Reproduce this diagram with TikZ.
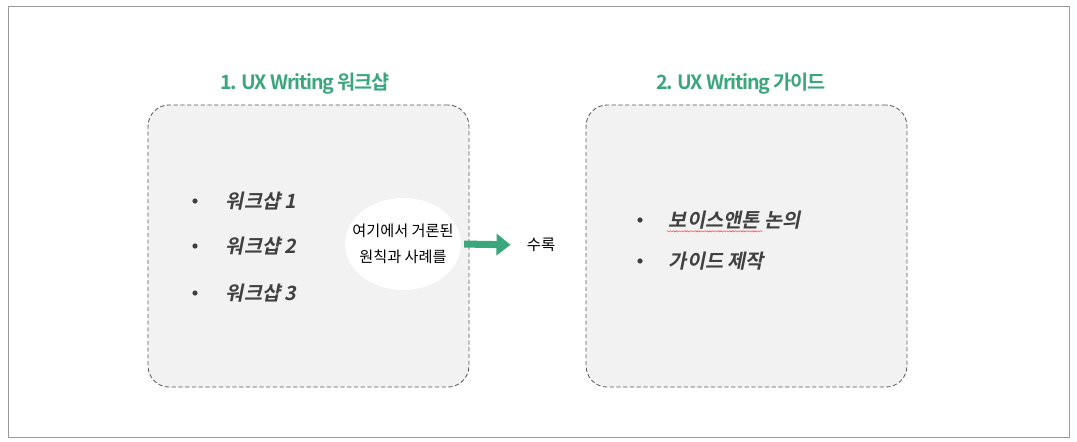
\documentclass[tikz,border=0pt]{standalone}
\usepackage{fontspec}
\setmainfont{Noto Sans CJK KR}
\newfontfamily\kr{Noto Sans CJK KR}
\newfontfamily\krtitle[LetterSpace=-6]{Noto Sans CJK KR Bold}
\newfontfamily\krit[FakeSlant=0.2]{Noto Sans CJK KR Bold}
\usetikzlibrary{positioning, arrows.meta, shapes.geometric, decorations.pathmorphing}
\definecolor{uxgreen}{HTML}{3AA67C}
\definecolor{itemgray}{HTML}{404040}
\definecolor{panelfill}{HTML}{F2F2F2}
\definecolor{panelline}{HTML}{5A5A5A}
\tikzset{
  x=0.025cm, y=-0.025cm,
  title/.style={
      font=\krtitle\fontsize{14}{17}\selectfont,
      text=uxgreen
    },
  panel/.style={
      rectangle,
      draw=panelline,
      line width=0.6pt,
      dash pattern=on 3pt off 1.8pt,
      fill=panelfill,
      rounded corners=15pt,
      minimum width=8.02cm,
      minimum height=7.05cm
    },
  dot/.style={
      circle,
      fill=itemgray,
      inner sep=0pt,
      minimum size=0.13cm
    },
  item/.style={
      anchor=west,
      font=\krit\fontsize{14}{17}\selectfont,
      text=itemgray
    },
  bubble/.style={
      ellipse,
      fill=white,
      inner xsep=-7.5pt,
      inner ysep=0pt,
      minimum width=2.9cm,
      minimum height=2.3cm,
      align=center,
      font=\kr\fontsize{10.8}{18.5}\selectfont
    },
  arr/.style={
      -{Triangle[length=10pt, width=15pt]},
      line width=5pt,
      draw=uxgreen
    }
}

\begin{document}
\begin{tikzpicture}
  \useasboundingbox (0,0) rectangle (1077,441);
  \draw[color=gray!80] (8,6) rectangle (1069,437);
  % left panel
  \node[panel] (work) at (308.5,246) {};
  \node[title] (worktitle) at (305,84) {1. UX Writing 워크샵};
  \node[dot] (d1) at (195,201) {}; \node[item] (w1) at (221,201) {워크샵 1};
  \node[dot] (d2) at (195,246) {}; \node[item] (w2) at (221,246) {워크샵 2};
  \node[dot] (d3) at (195,293) {}; \node[item] (w3) at (221,293) {워크샵 3};
  \node[bubble] (note) at (403,244) {여기에서 거론된\\원칙과 사례를};
  % right panel
  \node[panel] (guide) at (746.5,246) {};
  \node[title] (guidetitle) at (741,84) {2. UX Writing 가이드};
  \node[dot] (d4) at (640,220) {}; \node[item] (g1) at (664,220) {보이스앤톤 논의};
  \node[dot] (d5) at (640,261) {}; \node[item] (g2) at (664,261) {가이드 제작};
  \draw[red!80, line width=0.3pt, decorate, decoration={snake, amplitude=0.5pt, segment length=2pt}]
    ([xshift=2pt, yshift=2pt]g1.south west) -- ([xshift=70pt, yshift=2pt]g1.south west);
  % arrow to the guide
  \node[font=\kr\fontsize{11}{13}\selectfont] (sulok) at (541,245) {수록};
  \draw[arr, shorten <=2pt, shorten >=8pt] (note.east) -- (sulok.west);
\end{tikzpicture}
\end{document}
